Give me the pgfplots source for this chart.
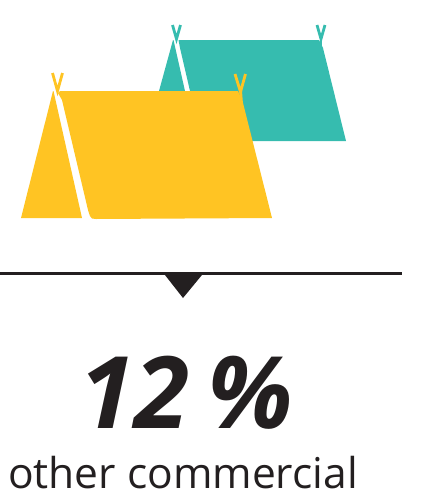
\documentclass[border=0pt]{standalone}
\usepackage{fontspec}
\setmainfont{Open Sans}
\usepackage{pgfplots}
\pgfplotsset{compat=1.18}
\definecolor{teal1}{HTML}{36BCAF}
\definecolor{yellow1}{HTML}{FFC423}
\definecolor{ink}{HTML}{231F20}
\pgfplotsset{
  shape/.style={draw=none,fill=#1,mark=none,forget plot},
  horn/.style={#1,line width=2.8,mark=none,forget plot,line join=miter}
}
\begin{document}
\begin{tikzpicture}
\useasboundingbox (0,0) rectangle (422pt,498pt);
\begin{axis}[
    at={(0,0)},anchor=south west,
    width=422pt,height=498pt,scale only axis,
    xmin=0,xmax=422,ymin=0,ymax=498,y dir=reverse,
    hide axis,clip=false
    ]
% back tent
\addplot[shape=teal1] coordinates {(173,40) (159,91) (185,91) (173.5,40)} --cycle;
\addplot[shape=teal1] coordinates {(178.5,40) (319,40) (323,48) (346,141) (200,141) (190,91) (180,48)} --cycle;
\addplot[horn=teal1] coordinates {(172.5,25) (176.5,39) (180.5,25)};
\addplot[horn=teal1] coordinates {(317,25) (321,39) (325,25)};
\addplot[horn=teal1] coordinates {(321,36) (321,46)};
% front tent
\addplot[shape=yellow1] coordinates {(53,91) (21,218) (82,218) (53.5,91)} --cycle;
\addplot[shape=yellow1] coordinates {(60,91) (238,91) (243,103) (272,218) (96,219) (92,218.5) (90,216) (88,210) (62,100) (58,93)} --cycle;
\addplot[horn=yellow1] coordinates {(52.5,73) (57.5,91) (62.5,73)};
\addplot[horn=yellow1] coordinates {(235,74) (240.5,92) (245.5,74)};
\addplot[horn=yellow1] coordinates {(240.5,90) (241.5,103)};
% divider
\addplot[ink,line width=2.2,mark=none,forget plot] coordinates {(0,273.5) (402,273.5)};
\addplot[shape=ink] coordinates {(163,272.5) (204,272.5) (183,298)} --cycle;
% text
\node[anchor=base,text=ink,inner sep=0pt,font=\fontsize{100}{100}\selectfont\bfseries\itshape] at (axis cs:186.5,428) {12\hspace{-0.08em} \%};
\node[anchor=base,text=ink,inner sep=0pt,font=\fontsize{42.5}{42.5}\selectfont] at (axis cs:183,488) {other commercial};
\end{axis}
\end{tikzpicture}
\end{document}
